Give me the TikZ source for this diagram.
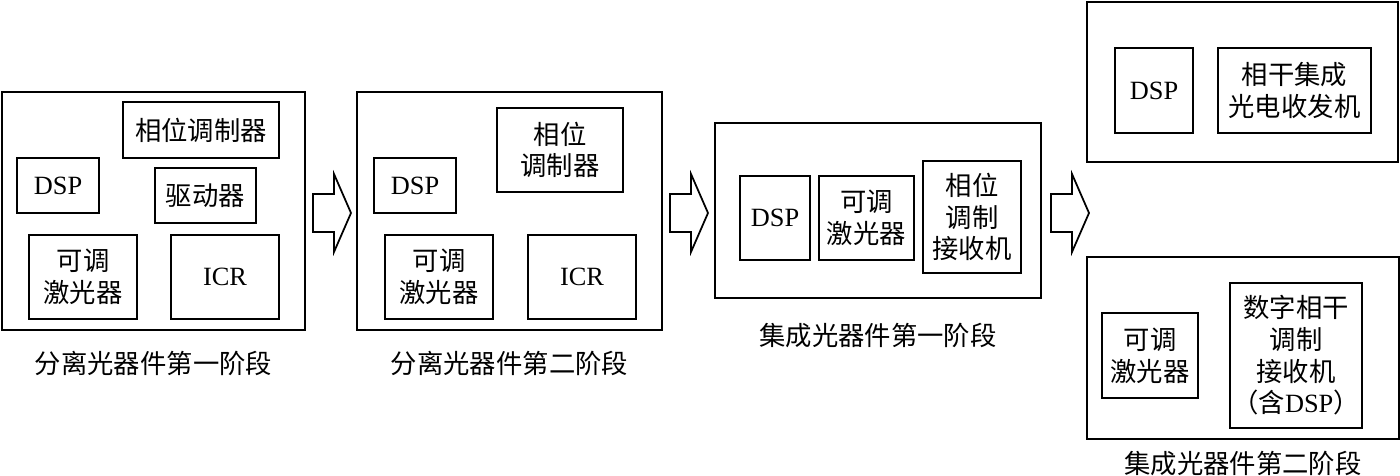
\documentclass[tikz,border=0pt]{standalone}
\usepackage{fontspec}
\setmainfont{Liberation Serif}
\newfontfamily\cjk{Noto Sans CJK SC}
\usepackage{tikz}
\usetikzlibrary{calc}

\begin{document}
\begin{tikzpicture}[x=0.02cm, y=-0.02cm,
  every node/.style={font=\fontsize{15}{18}\selectfont},
  zh/.style={font=\cjk\fontsize{15}{18}\selectfont},
  sz/.style 2 args={minimum width=#1*0.02cm, minimum height=#2*0.02cm},
  stage/.style={draw, line width=1pt, inner sep=0pt},
  part/.style={draw, line width=1pt, inner sep=0pt, align=center}]
\useasboundingbox (0,0) rectangle (1400,476);

% ============= stage 1: discrete parts =============
\node[stage, sz={303}{238}] (s1) at (153.5,211) {};
\node[part, zh, sz={156}{56}] (pm1) at (201,130) {相位调制器};
\node[part, sz={82}{55}] (dsp1) at (58,185.5) {DSP};
\node[part, zh, sz={101}{55}] (drv1) at (205.5,195.5) {驱动器};
\node[part, zh, sz={108}{84}] (ld1) at (83,277) {可调\\激光器};
\node[part, sz={108}{84}] (icr1) at (225,277) {ICR};
\node[zh] (cap1) at ($(s1.south)+(0,33)$) {分离光器件第一阶段};

% ============= stage 2: driver merged =============
\node[stage, sz={305}{238}] (s2) at (509.5,211) {};
\node[part, zh, sz={126}{84}] (pm2) at (560,150) {相位\\调制器};
\node[part, sz={82}{55}] (dsp2) at (415,185.5) {DSP};
\node[part, zh, sz={108}{84}] (ld2) at (439,277) {可调\\激光器};
\node[part, sz={108}{84}] (icr2) at (582,277) {ICR};
\node[zh] (cap2) at ($(s2.south)+(0,33)$) {分离光器件第二阶段};

% ============= stage 3: integrated, first step =============
\node[stage, sz={326}{175}] (s3) at (878,210.5) {};
\node[part, sz={70}{84}] (dsp3) at (775,218) {DSP};
\node[part, zh, sz={95}{84}] (ld3) at (866.5,218) {可调\\激光器};
\node[part, zh, sz={98}{112}] (rx3) at (972,217) {相位\\调制\\接收机};
\node[zh] (cap3) at ($(s3.south)+(0,37)$) {集成光器件第一阶段};

% ============= stage 4: two variants on the right =============
\node[stage, sz={311}{160}] (s4) at (1242.5,82) {};
\node[part, sz={78}{85}] (dsp4) at (1154,90.5) {DSP};
\node[part, zh, sz={153}{85}] (tr4) at (1294.5,90.5) {相干集成\\光电收发机};

\node[stage, sz={312}{182}] (s5) at (1243,348) {};
\node[part, zh, sz={96}{85}] (ld5) at (1150,355.5) {可调\\激光器};
\node[part, zh, sz={132}{145}] (rx5) at (1296,355.5) {数字相干\\调制\\接收机\\（含{\rmfamily DSP}）};
\node[zh] (cap5) at ($(s5.south)+(0,24)$) {集成光器件第二阶段};

% block arrows between the stages
\coordinate (a1) at (332,213);
\coordinate (a2) at (689,213);
\coordinate (a3) at (1070,213);
\foreach \a in {a1,a2,a3}
  \draw[line width=1pt] ([shift={(-19,-19)}]\a) -- ++(21,0) -- ++(0,-20)
    -- ++(17,39) -- ++(-17,39) -- ++(0,-20) -- ++(-21,0) -- cycle;
\end{tikzpicture}
\end{document}
